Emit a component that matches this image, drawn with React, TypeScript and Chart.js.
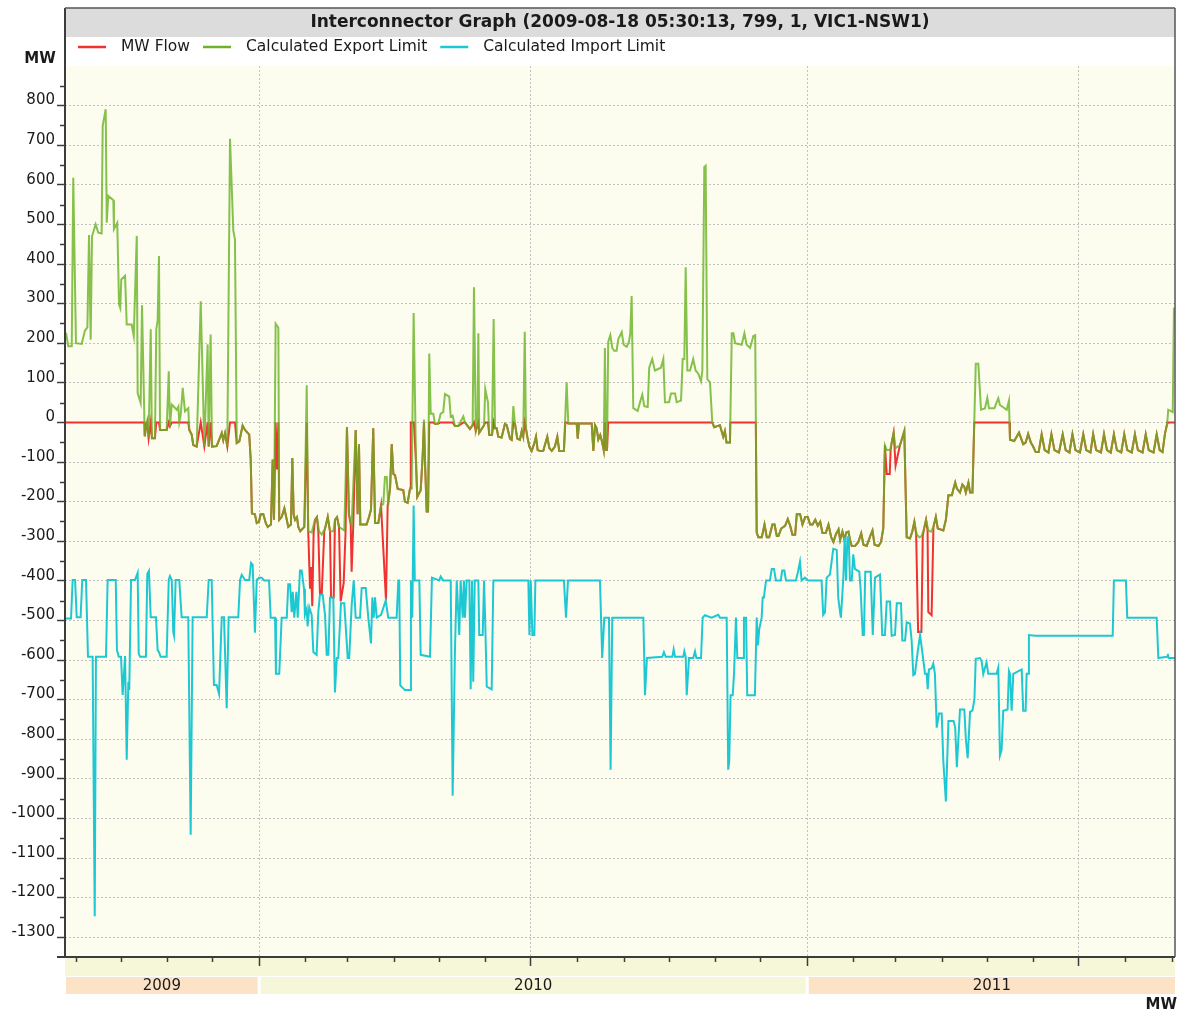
import React, { useEffect, useRef } from 'react';
import { Chart, registerables } from 'chart.js';

Chart.register(...registerables);

// ---------------- text ----------------
const TITLE = 'Interconnector Graph (2009-08-18 05:30:13, 799, 1, VIC1-NSW1)';
const SERIES_NAMES = ['MW Flow', 'Calculated Export Limit', 'Calculated Import Limit'];
const UNIT_LABEL = 'MW';
const YEAR_LABELS = ['2009', '2010', '2011'];

// ---------------- axes ----------------
// x values are days since 2009-08-25 (left edge of the plot)
const AXIS_START_UTC = Date.UTC(2009, 7, 25);
const X_MIN_DAYS = 0;
const X_MAX_DAYS = 739.3;
const Y_MIN = -1350;
const Y_MAX = 900;
const Y_MAJOR_TICKS = [800, 700, 600, 500, 400, 300, 200, 100, 0, -100, -200, -300, -400, -500, -600, -700, -800, -900, -1000, -1100, -1200, -1300];
const Y_MINOR_TICKS = [850, 750, 650, 550, 450, 350, 250, 150, 50, -50, -150, -250, -350, -450, -550, -650, -750, -850, -950, -1050, -1150, -1250];

// ---------------- data: [day, MW] ----------------
const exportLimit: [number, number][] = [
  [0.7, 226], [2.2, 192], [4.5, 192], [5.5, 618], [7.3, 200], [11.1, 198], [13.3, 232], [14.9, 240], [16.0, 473], [17.1, 209], [18.0, 470], [20.4, 500], [22.2, 479], [24.4, 477], [25.1, 749], [27.1, 791], [27.8, 504], [28.8, 572], [32.2, 561], [32.6, 488], [34.8, 504], [36.0, 298], [36.8, 289], [37.5, 361], [40.0, 370], [41.1, 247], [44.4, 247], [45.8, 218], [47.8, 471], [48.4, 74], [50.4, 49], [51.3, 296], [53.1, -35], [53.9, -14], [54.8, 3], [55.7, -40], [57.1, 235], [57.9, -40], [59.9, -40], [60.8, 235], [61.7, 256], [62.6, 420], [63.3, -19], [67.7, -19], [69.1, 129], [69.9, -10], [71.1, 45], [74.4, 32], [75.5, 40], [76.1, 0], [77.1, 20], [78.4, 87], [79.9, 28], [82.1, 36], [82.8, -19], [84.4, -31], [85.4, -57], [87.7, -61], [90.4, 306], [92.8, -61], [95.0, 197], [95.7, -61], [97.0, 222], [97.9, -61], [101.0, -60], [104.4, -27], [105.4, -45], [106.6, -27], [108.1, -61], [109.9, 716], [112.1, 484], [113.2, 462], [114.4, -52], [116.1, -48], [118.3, -8], [119.9, -19], [122.7, -31], [123.7, -95], [124.5, -230],
  [126.5, -232], [127.7, -254], [129.2, -251], [130.3, -232], [132.1, -232], [133.7, -254], [135.0, -264], [137.2, -258], [138.3, -94], [139.2, -246], [140.3, 249], [142.1, 239], [142.7, -246], [144.3, -239], [146.1, -217], [147.7, -246], [148.7, -264], [150.5, -258], [151.4, -90], [152.3, -232], [153.2, -246], [154.5, -239], [155.4, -264], [156.7, -275], [159.4, -264], [161.0, 94], [162.0, -275], [164.3, -278], [166.5, -246], [167.8, -239], [169.2, -275], [171.0, -283], [173.2, -268], [175.0, -239], [176.5, -275], [178.7, -275], [179.8, -246], [181.2, -239], [182.5, -264], [186.0, -273], [187.8, -12], [189.1, -232], [190.9, -258], [193.6, -19], [194.9, -232], [195.8, -55], [196.7, -258], [200.9, -258], [202.5, -239], [203.8, -220], [205.3, -15], [206.5, -254], [208.7, -254], [210.5, -210], [212.0, -206], [213.1, -138], [214.3, -138], [215.3, -210], [216.5, -167], [217.6, -55], [218.7, -130], [219.8, -133], [221.6, -168], [225.3, -171], [226.4, -200], [228.2, -203], [229.8, -167], [230.9, -167], [232.2, 276],
  [233.8, -101], [234.6, -188], [236.9, -171], [238.2, -87], [239.1, 7], [239.8, -101], [240.9, -225], [241.8, -225], [242.6, 174], [243.6, 22], [245.3, 22], [246.4, -4], [248.6, -3], [250.2, 22], [251.9, 26], [253.1, 72], [255.9, 65], [256.9, 15], [258.2, 17], [259.7, -9], [261.9, -9], [265.3, 15], [266.4, 0], [269.7, -17], [271.5, -7], [272.4, 341], [273.6, -22], [274.7, -7], [275.3, 225], [275.9, -26], [279.1, -7], [279.9, 84], [281.7, 51], [282.6, -32], [284.4, -32], [285.5, 261], [286.4, -15], [287.5, -15], [288.6, -36], [290.8, -38], [293.0, -4], [294.2, -7], [296.4, -41], [297.5, -44], [298.6, 41], [299.7, -3], [301.2, -41], [303.0, -44], [304.2, -22], [305.2, -36], [306.2, 229], [307.0, -15], [307.9, -36], [309.3, -61], [310.8, -72], [312.4, -55], [313.7, -36], [314.8, -70], [316.4, -72], [318.5, -72], [321.2, -36], [322.6, -65], [324.2, -72], [326.3, -61], [327.9, -36], [329.2, -72], [332.3, -72], [333.2, 15], [334.1, 101], [335.2, -3],
  [340.8, -3], [341.5, -41], [342.3, -3], [350.8, -3], [351.9, -72], [353.0, -7], [354.1, -15], [355.2, -43], [356.5, -32], [357.8, -51], [358.8, -70], [359.6, 188], [360.3, -70], [361.0, -70], [361.8, 203], [363.2, 220], [364.5, 188], [365.8, 181], [367.4, 181], [368.5, 210], [370.8, 228], [372.1, 196], [374.1, 191], [375.6, 203], [376.5, 225], [377.4, 319], [378.5, 36], [381.4, 29], [383.0, 51], [384.5, 70], [385.8, 41], [388.1, 39], [389.1, 138], [391.1, 160], [392.9, 131], [396.9, 138], [398.5, 160], [399.6, 51], [402.3, 51], [403.6, 73], [406.3, 73], [407.4, 51], [410.3, 55], [411.4, 160], [412.5, 160], [413.4, 392], [414.5, 131], [416.3, 131], [418.4, 160], [420.0, 131], [421.8, 123], [423.6, 104], [424.5, 131], [425.8, 645], [426.7, 648], [427.8, 109], [429.6, 101], [431.1, 0], [432.4, -12], [436.2, -7], [438.4, -36], [439.5, -22], [440.6, -51], [442.9, -51],
  [444.1, 225], [445.2, 225], [446.3, 200], [450.7, 196], [452.5, 225], [454.0, 196], [456.3, 188], [458.5, 218], [459.7, 220], [460.7, -278], [461.8, -290], [464.1, -290], [465.9, -258], [467.4, -290], [469.0, -290], [471.2, -258], [472.6, -258], [474.1, -287], [475.2, -287], [477.0, -268], [479.6, -261], [481.4, -244], [483.0, -261], [484.5, -284], [486.3, -284], [487.4, -232], [489.6, -232], [491.2, -258], [493.0, -239], [494.7, -239], [496.3, -258], [497.9, -258], [499.7, -246], [501.4, -261], [503.0, -251], [504.5, -279], [506.7, -279], [508.5, -258], [510.3, -290], [511.8, -302], [513.4, -283], [515.2, -270], [516.3, -297], [517.8, -276], [519.1, -297], [520.3, -278], [521.8, -276], [522.9, -297], [524.0, -312], [526.2, -312], [528.4, -302], [530.3, -280], [531.8, -309], [534.0, -312], [536.3, -287], [537.8, -273], [539.2, -309], [541.8, -312], [543.5, -302], [545.0, -268],
  [546.1, -58], [547.3, -70], [549.5, -70], [550.6, -51], [551.9, -26], [553.2, -65], [556.1, -58], [557.3, -43], [559.0, -22], [560.6, -290], [562.8, -293], [564.3, -276], [565.7, -251], [567.3, -283], [569.0, -290], [570.6, -287], [572.2, -268], [573.5, -246], [575.0, -273], [576.8, -276], [578.4, -264], [580.0, -239], [581.3, -268], [585.0, -273], [586.7, -246], [588.4, -184], [590.7, -184], [591.8, -167], [592.9, -152], [594.0, -167], [596.1, -177], [597.7, -157], [599.0, -163], [600.0, -177], [601.7, -152], [602.8, -177], [604.4, -177], [606.6, 148], [608.3, 148], [610.1, 32], [612.7, 35], [614.3, 62], [615.4, 36], [619.0, 36], [621.6, 61], [622.7, 44], [627.2, 32], [628.7, 55],
  [629.4, -44], [632.2, -47], [635.4, -26], [638.2, -55], [639.8, -51], [641.5, -29], [643.3, -51], [644.8, -61], [646.5, -75], [648.5, -75], [650.5, -30], [652.5, -70], [655.0, -76], [657.0, -30], [659.0, -70], [662.0, -76], [664.5, -30], [666.5, -70], [669.0, -76], [671.0, -30], [673.0, -70], [676.0, -76], [678.2, -30], [680.2, -70], [683.0, -76], [684.8, -30], [686.8, -70], [690.0, -76], [692.0, -30], [694.0, -70], [696.5, -76], [698.6, -30], [700.6, -70], [703.5, -76], [705.5, -30], [707.5, -70], [710.5, -76], [712.6, -30], [714.6, -70], [717.7, -76], [719.8, -30], [721.8, -70], [725.0, -76], [727.1, -30], [729.1, -70], [731.0, -75], [732.6, -29], [734.1, -3], [734.8, 32], [737.8, 26], [738.6, 287], [739.3, 290],
];

const mwFlow: [number, number][] = [
  [0, 0], [52.9, 0], [53.1, -35], [53.9, -14], [54.8, 0], [55.7, -40], [57.1, 0], [57.9, -40], [59.9, -40], [60.8, 0], [62.6, 0], [63.3, -19], [67.7, -19], [69.1, 0], [69.9, -10], [71.1, 0], [82.1, 0], [82.8, -19], [84.4, -31], [85.4, -57], [87.7, -61], [90.4, 0], [92.8, -61], [95.0, 0], [95.7, -61], [97.0, 0], [97.9, -61], [101.0, -60], [104.4, -27], [105.4, -45], [106.6, -27], [108.1, -61], [109.9, 0], [113.2, 0], [114.4, -52], [116.1, -48], [118.3, -8], [119.9, -19], [122.7, -31], [123.7, -95], [124.5, -230],
  [126.5, -232], [127.7, -254], [129.2, -251], [130.3, -232], [132.1, -232], [133.7, -254], [135.0, -264], [137.2, -258], [138.3, -94], [139.2, -246], [140.3, 0], [141.2, -119], [142.1, 0], [142.7, -246], [144.3, -239], [146.1, -217], [147.7, -246], [148.7, -264], [150.5, -258], [151.4, -90], [152.3, -232], [153.2, -246], [154.5, -239], [155.4, -264], [156.7, -275], [159.4, -264], [161.0, 0], [162.0, -275], [163.2, -420], [163.9, -365], [164.7, -464], [165.6, -278], [166.5, -246], [167.8, -239], [168.7, -275], [169.8, -432], [171.0, -432], [172.7, -275], [173.2, -268], [175.0, -239], [176.5, -275], [177.2, -442], [179.0, -442], [179.8, -246], [181.2, -239], [182.5, -264], [183.6, -452], [185.6, -406], [186.9, -273], [187.8, -12], [189.1, -232], [190.3, -258], [190.9, -377], [192.0, -258], [193.6, -19], [194.9, -232], [195.8, -55], [196.7, -258], [200.9, -258], [202.5, -239], [203.8, -220], [205.3, -15], [206.5, -254], [208.7, -254], [210.5, -210], [213.8, -450], [214.9, -210], [216.5, -167], [217.6, -55], [218.7, -130], [219.8, -133], [221.6, -168], [225.3, -171], [226.4, -200], [228.2, -203], [229.8, -167], [230.3, 0], [232.4, 0],
  [233.8, -101], [234.6, -188], [236.9, -171], [238.2, -87], [239.1, 0], [239.8, -101], [240.9, -225], [241.8, -225], [242.6, 0], [245.3, 0], [246.4, -4], [248.6, -3], [250.2, 0], [258.2, 0], [259.7, -9], [261.9, -9], [265.3, 0], [266.4, 0], [269.7, -17], [271.5, -7], [272.4, 0], [273.6, -22], [274.7, -7], [275.3, 0], [275.9, -26], [279.1, -7], [279.9, 0], [281.7, 0], [282.6, -32], [284.4, -32], [285.5, 0], [286.4, -15], [287.5, -15], [288.6, -36], [290.8, -38], [293.0, -4], [294.2, -7], [296.4, -41], [297.5, -44], [298.6, 0], [299.7, -3], [301.2, -41], [303.0, -44], [304.2, -22], [305.2, -36], [306.2, 0], [307.0, -15], [307.9, -36], [309.3, -61], [310.8, -72], [312.4, -55], [313.7, -36], [314.8, -70], [316.4, -72], [318.5, -72], [321.2, -36], [322.6, -65], [324.2, -72], [326.3, -61], [327.9, -36], [329.2, -72], [332.3, -72], [333.2, 0], [334.1, 0], [335.2, -3],
  [340.8, -3], [341.5, -41], [342.3, -3], [350.8, -3], [351.9, -72], [353.0, -7], [354.1, -15], [355.2, -43], [356.5, -32], [357.8, -51], [358.8, -70], [359.6, 0], [360.3, -70], [361.0, -70], [361.8, 0], [431.1, 0], [432.4, -12], [436.2, -7], [438.4, -36], [439.5, -22], [440.6, -51], [442.9, -51], [443.1, 0], [460.1, 0],
  [460.7, -278], [461.8, -290], [464.1, -290], [465.9, -258], [467.4, -290], [469.0, -290], [471.2, -258], [472.6, -258], [474.1, -287], [475.2, -287], [477.0, -268], [479.6, -261], [481.4, -244], [483.0, -261], [484.5, -284], [486.3, -284], [487.4, -232], [489.6, -232], [491.2, -258], [493.0, -239], [494.7, -239], [496.3, -258], [497.9, -258], [499.7, -246], [501.4, -261], [503.0, -251], [504.5, -279], [506.7, -279], [508.5, -258], [510.3, -290], [511.8, -302], [513.4, -283], [515.2, -270], [516.3, -297], [517.8, -276], [519.1, -297], [520.3, -278], [521.8, -276], [522.9, -297], [524.0, -312], [526.2, -312], [528.4, -302], [530.3, -280], [531.8, -309], [534.0, -312], [536.3, -287], [537.8, -273], [539.2, -309], [541.8, -312], [543.5, -302], [545.0, -268],
  [546.1, -58], [547.3, -130], [549.3, -130], [549.9, -70], [550.6, -51], [551.9, -26], [553.2, -109], [556.1, -58], [557.3, -43], [559.0, -22], [560.6, -290], [562.8, -293], [564.3, -276], [565.7, -251], [566.9, -283], [568.2, -529], [570.4, -529], [571.3, -287], [572.2, -268], [573.5, -246], [574.5, -273], [575.0, -479], [577.2, -487], [578.4, -264], [580.0, -239], [581.3, -268], [585.0, -273], [586.7, -246], [588.4, -184], [590.7, -184], [591.8, -167], [592.9, -152], [594.0, -167], [596.1, -177], [597.7, -157], [599.0, -163], [600.0, -177], [601.7, -152], [602.8, -177], [604.4, -177], [605.6, 0], [629.1, 0],
  [629.4, -44], [632.2, -47], [635.4, -26], [638.2, -55], [639.8, -51], [641.5, -29], [643.3, -51], [644.8, -61], [646.5, -75], [648.5, -75], [650.5, -30], [652.5, -70], [655.0, -76], [657.0, -30], [659.0, -70], [662.0, -76], [664.5, -30], [666.5, -70], [669.0, -76], [671.0, -30], [673.0, -70], [676.0, -76], [678.2, -30], [680.2, -70], [683.0, -76], [684.8, -30], [686.8, -70], [690.0, -76], [692.0, -30], [694.0, -70], [696.5, -76], [698.6, -30], [700.6, -70], [703.5, -76], [705.5, -30], [707.5, -70], [710.5, -76], [712.6, -30], [714.6, -70], [717.7, -76], [719.8, -30], [721.8, -70], [725.0, -76], [727.1, -30], [729.1, -70], [731.0, -75], [732.6, -29], [734.1, -3], [734.2, 0], [739.3, 0],
];

const importLimit: [number, number][] = [
  [0.7, -495], [4.0, -495], [5.1, -398], [6.7, -398], [7.8, -492], [10.4, -492], [11.5, -398], [14.0, -398], [15.3, -592], [18.4, -592], [19.8, -1247], [20.6, -592], [27.3, -592], [28.4, -398], [33.8, -398], [34.6, -575], [35.8, -592], [37.3, -592], [38.4, -688], [40.0, -590], [41.1, -852], [42.2, -655], [42.8, -676], [44.0, -398], [46.6, -398], [48.4, -380], [49.1, -583], [50.0, -592], [53.9, -592], [54.8, -383], [55.9, -375], [57.1, -492], [60.6, -492], [61.7, -575], [62.6, -580], [63.7, -592], [67.7, -592], [69.1, -397], [69.9, -388], [71.1, -398], [72.1, -529], [72.6, -538], [73.7, -398], [76.1, -398], [77.7, -492], [82.1, -492], [83.7, -1041], [85.0, -492], [94.4, -492], [95.7, -398], [97.7, -398], [99.2, -663], [101.0, -663], [102.6, -686], [104.4, -492], [105.9, -492], [107.7, -722], [109.0, -492], [115.4, -492], [116.6, -398], [117.7, -385], [119.9, -398], [122.7, -398], [123.9, -355], [125.0, -360], [126.5, -531], [127.7, -398],
  [129.2, -392], [131.0, -392], [132.7, -399], [135.9, -399], [137.0, -493], [139.9, -493], [140.5, -635], [142.7, -635], [144.3, -493], [147.7, -493], [148.7, -409], [149.9, -409], [151.0, -479], [151.7, -428], [152.7, -493], [154.1, -428], [155.0, -493], [156.5, -374], [157.6, -374], [159.2, -420], [159.8, -486], [161.0, -471], [161.6, -515], [162.7, -467], [164.3, -486], [165.4, -580], [167.6, -587], [168.7, -479], [169.8, -435], [171.6, -435], [173.2, -486], [174.3, -587], [175.4, -587], [176.5, -442], [178.7, -442], [179.8, -682], [181.0, -595], [182.0, -595], [183.8, -457], [186.0, -457], [188.3, -595], [189.3, -595], [190.9, -464], [192.3, -399], [193.6, -493], [196.5, -493], [197.6, -418], [200.3, -418], [202.0, -493], [203.8, -558], [204.7, -442], [205.6, -493], [206.5, -442], [207.6, -493], [210.5, -486], [213.6, -450], [215.3, -493], [220.9, -493], [222.0, -399], [222.6, -399], [223.3, -664], [226.4, -676], [229.8, -676], [230.4, -399], [231.3, -493], [232.2, -210], [233.0, -399],
  [236.0, -399], [236.9, -587], [243.1, -592], [244.4, -392], [249.3, -399], [250.2, -389], [251.9, -399], [256.9, -399], [258.2, -943], [259.7, -580], [260.9, -399], [262.6, -537], [263.5, -399], [264.9, -493], [265.7, -399], [266.4, -493], [267.5, -399], [269.3, -399], [270.2, -674], [271.1, -399], [271.9, -655], [272.9, -399], [275.3, -399], [275.9, -537], [278.2, -537], [279.1, -399], [279.9, -508], [280.9, -667], [284.2, -674], [285.3, -399], [308.6, -399], [309.3, -537], [310.2, -399], [311.3, -537], [312.6, -537], [313.3, -399], [332.3, -399], [333.7, -493], [335.0, -399],
  [356.3, -399], [357.8, -595], [359.2, -493], [362.3, -493], [363.4, -877], [364.5, -493], [385.2, -493], [386.3, -689], [387.6, -595], [397.8, -592], [398.9, -580], [400.1, -592], [404.5, -592], [405.4, -573], [406.3, -592], [411.8, -592], [412.5, -578], [413.4, -592], [414.1, -689], [415.6, -595], [418.4, -595], [419.6, -578], [420.5, -595], [423.6, -595], [424.7, -493], [426.2, -487], [430.7, -493], [435.1, -486], [436.2, -493],
  [440.7, -493], [441.7, -877], [442.4, -856], [443.3, -689], [444.7, -689], [445.6, -635], [446.2, -635], [446.9, -493], [447.8, -595], [451.7, -595], [452.2, -493], [453.6, -493], [454.4, -689], [459.5, -689], [460.7, -493], [461.5, -563], [462.4, -522], [464.0, -493], [464.7, -442], [465.5, -442], [466.9, -399], [469.5, -399], [470.7, -370], [472.2, -370], [473.5, -399], [476.7, -399], [477.7, -374], [479.1, -374], [480.2, -399], [486.8, -399], [488.2, -377], [489.5, -352], [490.6, -399], [492.8, -392], [495.0, -399], [503.9, -399], [505.0, -486], [506.2, -479], [507.3, -392], [509.5, -384], [511.7, -319], [514.0, -322], [515.0, -442], [516.2, -479], [516.8, -493], [518.4, -392], [519.3, -290], [520.2, -399], [521.1, -290], [522.0, -290], [522.8, -399], [524.0, -399], [525.0, -333], [526.1, -370], [529.0, -377], [529.9, -420], [531.3, -537], [532.1, -537], [533.0, -377], [536.6, -377], [538.0, -537], [539.5, -392], [542.8, -384],
  [544.3, -537], [546.1, -537], [547.3, -452], [549.5, -452], [550.6, -539], [552.8, -537], [554.0, -457], [556.8, -457], [557.7, -551], [559.5, -551], [560.6, -505], [562.8, -508], [563.9, -551], [565.0, -638], [566.1, -635], [567.9, -580], [569.5, -537], [571.0, -580], [572.8, -635], [573.9, -635], [574.6, -674], [575.4, -624], [577.2, -621], [578.3, -609], [579.4, -635], [580.6, -771], [582.1, -735], [583.9, -735], [585.0, -856], [586.7, -957], [588.4, -754], [591.8, -754], [592.9, -770], [594.0, -871], [596.1, -725], [599.0, -725], [600.0, -800], [601.2, -848], [602.8, -731], [604.4, -728], [605.7, -699], [606.6, -597], [609.4, -595], [610.5, -602], [611.6, -635], [612.7, -620], [613.8, -606], [614.9, -635], [620.5, -635], [621.6, -619], [622.7, -841], [623.8, -827], [624.9, -728], [627.8, -725], [628.7, -628], [629.4, -635], [630.5, -728], [631.6, -635], [636.0, -626], [637.2, -624], [638.2, -728], [639.8, -728], [640.5, -635], [641.5, -635], [642.0, -537],
  [646.0, -539], [697.8, -539], [698.6, -399], [706.6, -399], [707.5, -493], [727.1, -493], [728.2, -595], [734.0, -592], [734.5, -585], [735.0, -595], [739.3, -595],
];

// ---------------- style ----------------
const COLORS = {
  flow: '#f03232',
  exportLimit: 'rgba(104, 178, 34, 0.8)',
  exportLegend: '#6cb22a',
  importLimit: '#1ec8d2',
  titleBar: '#dcdcdc',
  plotBg: '#fdfdef',
  band: '#f6f6d8',
  yearAlt: '#fde3c6',
  grid: '#c2c2c2',
  axis: '#3c3c3c',
  text: '#1a1a1a',
};
const FONT = '"DejaVu Sans", Verdana, sans-serif';
const W = 1185;
const H = 1013;

const dayOf = (y: number, m: number, d: number) => (Date.UTC(y, m - 1, d) - AXIS_START_UTC) / 86400000;

const framePlugin = {
  id: 'frame',
  beforeDraw(chart: any) {
    const { ctx, chartArea: a } = chart;
    const xs = chart.scales.x;
    ctx.save();
    ctx.fillStyle = '#ffffff';
    ctx.fillRect(0, 0, W, H);
    // title bar
    ctx.fillStyle = COLORS.titleBar;
    ctx.fillRect(a.left, 8, a.right - a.left, 29);
    // plot background
    ctx.fillStyle = COLORS.plotBg;
    ctx.fillRect(a.left, a.top, a.right - a.left, a.bottom - a.top);
    // tick band below axis
    ctx.fillStyle = COLORS.band;
    ctx.fillRect(a.left, a.bottom + 1, a.right - a.left, 18);
    // year cells
    const years = [2009, 2010, 2011];
    years.forEach((yr, i) => {
      const s = Math.max(dayOf(yr, 1, 1), X_MIN_DAYS);
      const e = Math.min(dayOf(yr + 1, 1, 1), X_MAX_DAYS);
      const x0 = i === 0 ? a.left + 1 : xs.getPixelForValue(s) + 2;
      const x1 = i === years.length - 1 ? a.right : xs.getPixelForValue(e) - 1;
      ctx.fillStyle = i % 2 === 0 ? COLORS.yearAlt : COLORS.band;
      ctx.fillRect(x0, a.bottom + 20, x1 - x0, 17);
      ctx.fillStyle = COLORS.text;
      ctx.font = `15px ${FONT}`;
      ctx.textAlign = 'center';
      ctx.textBaseline = 'middle';
      ctx.fillText(YEAR_LABELS[i], (x0 + x1) / 2, a.bottom + 29);
    });
    ctx.restore();
  },
  beforeDatasetsDraw(chart: any) {
    const { ctx, chartArea: a } = chart;
    const xs = chart.scales.x;
    ctx.save();
    ctx.strokeStyle = COLORS.grid;
    ctx.lineWidth = 1;
    ctx.setLineDash([2, 2]);
    for (let y = 2009; y <= 2011; y++) {
      for (const m of [1, 7]) {
        const d = dayOf(y, m, 1);
        if (d <= X_MIN_DAYS || d >= X_MAX_DAYS) continue;
        const px = Math.round(xs.getPixelForValue(d)) + 0.5;
        ctx.beginPath();
        ctx.moveTo(px, a.top);
        ctx.lineTo(px, a.bottom);
        ctx.stroke();
      }
    }
    ctx.restore();
  },
  afterDraw(chart: any) {
    const { ctx, chartArea: a } = chart;
    const xs = chart.scales.x;
    const ys = chart.scales.y;
    ctx.save();
    // minor y ticks
    ctx.strokeStyle = COLORS.axis;
    ctx.lineWidth = 1.5;
    Y_MINOR_TICKS.forEach((v) => {
      const py = Math.round(ys.getPixelForValue(v)) + 0.5;
      ctx.beginPath();
      ctx.moveTo(a.left - 5, py);
      ctx.lineTo(a.left, py);
      ctx.stroke();
    });
    // x month ticks
    for (let y = 2009; y <= 2011; y++) {
      for (let m = 1; m <= 12; m++) {
        const d = dayOf(y, m, 1);
        if (d < X_MIN_DAYS || d > X_MAX_DAYS) continue;
        const major = m === 1 || m === 7;
        const px = Math.round(xs.getPixelForValue(d)) + 0.5;
        ctx.beginPath();
        ctx.moveTo(px, a.bottom);
        ctx.lineTo(px, a.bottom + (major ? 9 : 5));
        ctx.stroke();
      }
    }
    // frame
    ctx.strokeStyle = COLORS.axis;
    ctx.lineWidth = 2;
    ctx.beginPath();
    ctx.moveTo(a.left, 8);
    ctx.lineTo(a.left, a.bottom);
    ctx.moveTo(a.left - 8, a.bottom);
    ctx.lineTo(a.right, a.bottom);
    ctx.stroke();
    ctx.strokeStyle = '#555555';
    ctx.lineWidth = 1.5;
    ctx.beginPath();
    ctx.moveTo(a.left, 8);
    ctx.lineTo(a.right, 8);
    ctx.moveTo(a.right, 8);
    ctx.lineTo(a.right, a.bottom);
    ctx.stroke();
    // title
    ctx.fillStyle = COLORS.text;
    ctx.font = `bold 17px ${FONT}`;
    ctx.textAlign = 'center';
    ctx.textBaseline = 'middle';
    ctx.fillText(TITLE, (a.left + a.right) / 2, 23);
    // legend
    const legendColors = [COLORS.flow, COLORS.exportLegend, COLORS.importLimit];
    ctx.font = `15.5px ${FONT}`;
    ctx.textAlign = 'left';
    let lx = 78;
    SERIES_NAMES.forEach((name, i) => {
      ctx.strokeStyle = legendColors[i];
      ctx.lineWidth = 2.5;
      ctx.beginPath();
      ctx.moveTo(lx, 47);
      ctx.lineTo(lx + 28, 47);
      ctx.stroke();
      ctx.fillStyle = COLORS.text;
      ctx.fillText(name, lx + 43, 47);
      lx += 43 + ctx.measureText(name).width + 13;
    });
    // unit labels
    ctx.font = `bold 15px ${FONT}`;
    ctx.textAlign = 'center';
    ctx.fillText(UNIT_LABEL, 40, 59);
    ctx.textAlign = 'right';
    ctx.fillText(UNIT_LABEL, 1177, 1005);
    ctx.restore();
  },
};

const toXY = (arr: [number, number][]) => arr.map(([x, y]) => ({ x, y }));

export default function App() {
  const ref = useRef<HTMLCanvasElement | null>(null);
  useEffect(() => {
    if (!ref.current) return;
    const majorSet = new Set(Y_MAJOR_TICKS);
    const chart = new Chart(ref.current, {
      type: 'line',
      data: {
        datasets: [
          { label: SERIES_NAMES[0], data: toXY(mwFlow), borderColor: COLORS.flow, borderWidth: 2, pointRadius: 0, tension: 0, order: 3 },
          { label: SERIES_NAMES[1], data: toXY(exportLimit), borderColor: COLORS.exportLimit, borderWidth: 2, pointRadius: 0, tension: 0, order: 2 },
          { label: SERIES_NAMES[2], data: toXY(importLimit), borderColor: COLORS.importLimit, borderWidth: 2, pointRadius: 0, tension: 0, order: 1 },
        ],
      },
      options: {
        animation: false,
        responsive: false,
        devicePixelRatio: 1,
        parsing: false as any,
        normalized: true,
        layout: { padding: { top: 66, right: 10, bottom: 56, left: 0 } },
        plugins: { legend: { display: false }, tooltip: { enabled: false }, title: { display: false } },
        scales: {
          x: { type: 'linear', min: X_MIN_DAYS, max: X_MAX_DAYS, display: false },
          y: {
            type: 'linear',
            min: Y_MIN,
            max: Y_MAX,
            afterFit: (s: any) => { s.width = 65; },
            afterBuildTicks: (s: any) => { s.ticks = Y_MAJOR_TICKS.map((v) => ({ value: v })); },
            ticks: {
              autoSkip: false,
              callback: (v: any) => String(v),
              font: { family: FONT, size: 15 },
              color: COLORS.text,
              padding: 2,
              labelOffset: -5,
            },
            grid: {
              color: (c: any) => (c.tick && majorSet.has(c.tick.value) ? COLORS.grid : 'rgba(0,0,0,0)'),
              tickColor: COLORS.axis,
              tickLength: 8,
              tickWidth: 1.5,
              lineWidth: 1,
            },
            border: { display: false, dash: [2, 2] },
          },
        },
      },
      plugins: [framePlugin],
    } as any);
    return () => chart.destroy();
  }, []);
  return (
    <div style={{ position: 'absolute', left: 0, top: 0, width: W, height: H }}>
      <canvas ref={ref} width={W} height={H} style={{ width: W, height: H, display: 'block' }} />
    </div>
  );
}
